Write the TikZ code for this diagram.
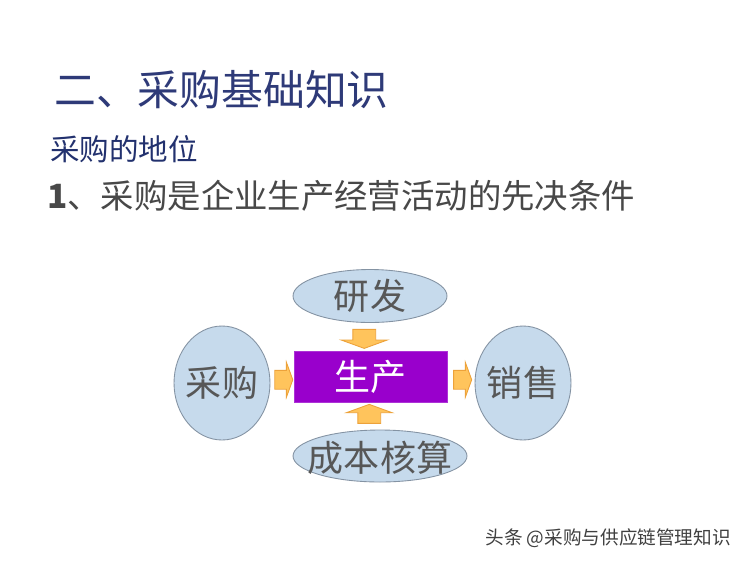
\documentclass[tikz,border=0pt]{standalone}
\usepackage{fontspec}
\setmainfont{Liberation Sans}
\newfontfamily\cjk{Noto Sans CJK SC}
\usetikzlibrary{calc, shapes.geometric, shapes.arrows}

\definecolor{titleblue}{HTML}{2E3A78}
\definecolor{subblue}{HTML}{22316E}
\definecolor{bodygray}{HTML}{484848}
\definecolor{bubblefill}{HTML}{C6DAEC}
\definecolor{bubbleline}{HTML}{8493A3}
\definecolor{bubbletext}{HTML}{575757}
\definecolor{corepurple}{HTML}{9900CC}
\definecolor{arrowfill}{HTML}{FFC45C}
\definecolor{arrowline}{HTML}{EDA23A}

\tikzset{
  bubble/.style={ellipse, draw=bubbleline, fill=bubblefill, line width=0.5pt, inner sep=0pt},
  bubblelabel/.style={text=bubbletext, font=\cjk\fontsize{20.5pt}{22pt}\selectfont},
  core/.style={rectangle, draw=corepurple!80!white, fill=corepurple, inner sep=0pt,
    minimum width=3.06cm, minimum height=1.02cm, text=white, font=\cjk\fontsize{20.5pt}{22pt}\selectfont},
  flowarrow/.style={single arrow, draw=arrowline, fill=arrowfill, line width=0.5pt, inner xsep=0pt,
    single arrow tip angle=140, single arrow head indent=0pt}
}

\begin{document}
\begin{tikzpicture}[x=0.02cm, y=-0.02cm]
\useasboundingbox [fill=white] (0,0) rectangle (750,562);

% headings
\node [anchor=west, text=titleblue, font=\cjk\fontsize{23.8pt}{26pt}\selectfont] (title) at (48,90) {二、采购基础知识};
\node [anchor=west, text=subblue, font=\cjk\fontsize{16.8pt}{19pt}\selectfont] (subtitle) at (44,149) {采购的地位};
\node [anchor=west, text=bodygray, font=\cjk\fontsize{19pt}{21pt}\selectfont] (lead) at (41,196) {{\bfseries 1}、采购是企业生产经营活动的先决条件};

% the five boxes
\node [core] (shengchan) at (370.5,376.5) {生产};
\node [bubble, minimum width=3.08cm, minimum height=1.06cm, label={[bubblelabel]center:研发}] (yanfa) at (370,296) {};
\node [bubble, minimum width=1.92cm, minimum height=2.28cm, label={[bubblelabel]center:采购}] (caigou) at (222,383) {};
\node [bubble, minimum width=1.92cm, minimum height=2.28cm, label={[bubblelabel]center:销售}] (xiaoshou) at (523,383) {};
\node [bubble, minimum width=3.48cm, minimum height=1.04cm, label={[bubblelabel, yshift=-0.04cm]center:成本核算}] (hesuan) at (380,456) {};

% block arrows between them
\node [flowarrow, inner ysep=0.18cm, minimum height=0.36cm, single arrow head extend=0.16cm]
  (acaigou) at ($(caigou.east)!0.5!(shengchan.west)$) {};
\node [flowarrow, inner ysep=0.18cm, minimum height=0.36cm, single arrow head extend=0.16cm]
  (axiaoshou) at ($(shengchan.east)!0.5!(xiaoshou.west)$) {};
\node [flowarrow, rotate=-90, inner ysep=0.22cm, minimum height=0.38cm, single arrow head extend=0.23cm]
  (ayanfa) at ($(yanfa.south)!0.5!(shengchan.north)+(-6,0)$) {};
\node [flowarrow, rotate=90, inner ysep=0.22cm, minimum height=0.38cm, single arrow head extend=0.23cm]
  (ahesuan) at ($(shengchan.south)!0.5!(hesuan.north)+(-6,0)$) {};

% watermark
\node [anchor=east, text=black!75, font=\cjk\fontsize{10.6pt}{12pt}\selectfont] (mark) at (737,538) {头条 @采购与供应链管理知识};
\end{tikzpicture}
\end{document}
